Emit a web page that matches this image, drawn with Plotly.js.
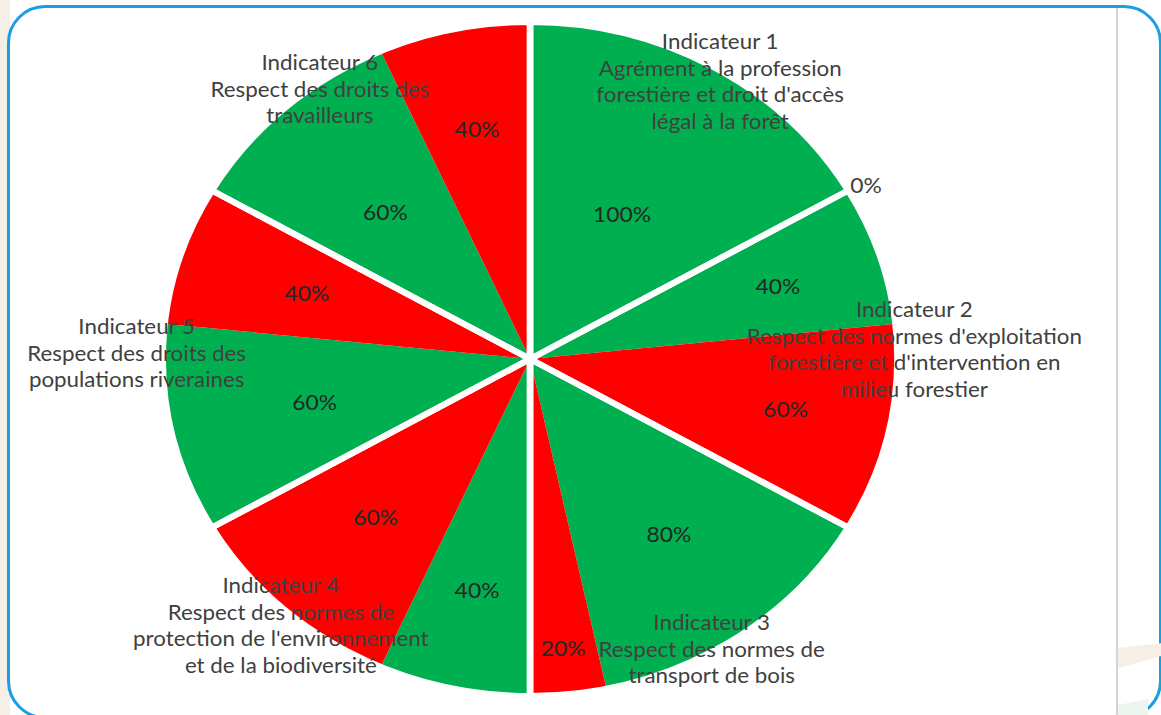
<!DOCTYPE html>
<html>
<head>
<meta charset="utf-8">
<script src="https://cdn.plot.ly/plotly-3.0.1.min.js"></script>
<style>
  html, body { margin:0; padding:0; background:#ffffff; width:1161px; height:715px; overflow:hidden; }
  #stage { position:relative; width:1161px; height:715px; }
  .deco { position:absolute; }
  #chart { position:absolute; left:0; top:0; transform-origin:0 0; }
</style>
</head>
<body>
<div id="stage">
  <div class="deco" style="left:0;top:0;width:10px;height:715px;background:#f4f0e7"></div>
  <div class="deco" style="left:7px;top:5px;width:1155px;height:714px;box-sizing:border-box;border:3px solid #1b9de2;border-radius:38px;background:#ffffff"></div>
  <div class="deco" style="left:1116px;top:8px;width:2px;height:707px;background:#d4d4d4"></div>
  <div class="deco" style="left:1118px;top:640px;width:43px;height:32px;background:#f5efe4;clip-path:polygon(0 25%,100% 10%,100% 50%,0 88%)"></div>
  <div class="deco" style="left:1118px;top:695px;width:30px;height:20px;background:#edf6ee;clip-path:polygon(0 50%,100% 20%,100% 100%,0 100%)"></div>
  <div id="chart"></div>
</div>
<script>
// ---------------- data ----------------
const indicators = ['Indicateur 1', 'Indicateur 2', 'Indicateur 3', 'Indicateur 4', 'Indicateur 5', 'Indicateur 6'];
const indicatorDescriptions = [
  ['Agrément à la profession', "forestière et droit d'accès", 'légal à la forêt'],
  ["Respect des normes d'exploitation", "forestière et d'intervention en", 'milieu forestier'],
  ['Respect des normes de', 'transport de bois'],
  ['Respect des normes de', "protection de l'environnement", 'et de la biodiversité'],
  ['Respect des droits des', 'populations riveraines'],
  ['Respect des droits des', 'travailleurs']
];
const conformes    = [100, 40, 80, 40, 60, 60];   // green share (%)
const nonConformes = [0,   60, 20, 60, 40, 40];   // red share (%)

// ---------------- layout / style constants ----------------
const H = 715;
const STRETCH = 1.09;                       // the reference picture is stretched horizontally
const WU = Math.round(1161 / STRETCH);      // un-stretched plot width
const pieCx = 530 / STRETCH, pieCy = 359, pieR = 337;   // pie geometry in un-stretched px
const GREEN = '#00b050', RED = '#ff0000';
const FONT = 'Lato, "Open Sans", sans-serif';
// radial position (fraction of radius) of each slice's percentage label
const labelRadius = [0.50, 1.00, 0.71, 0.71, 0.64, 0.86, 0.70, 0.63, 0.60, 0.64, 0.59, 0.70];
// centre of each indicator's label block, in screen px
const indicatorLabelPos = [[720, 81], [914, 349], [712, 648], [281, 625], [137, 352], [320, 89]];

// ---------------- build slices ----------------
const sliceValues = [], sliceLabels = [], sliceColors = [];
indicators.forEach((name, i) => {
  sliceValues.push(conformes[i]);    sliceLabels.push(name + ' – conforme');     sliceColors.push(GREEN);
  sliceValues.push(nonConformes[i]); sliceLabels.push(name + ' – non conforme'); sliceColors.push(RED);
});
const indicatorTotals = indicators.map((_, i) => conformes[i] + nonConformes[i]);

const domain = {
  x: [(pieCx - pieR) / WU, (pieCx + pieR) / WU],
  y: [1 - (pieCy + pieR) / H, 1 - (pieCy - pieR) / H]
};

const pieMain = {
  type: 'pie', values: sliceValues, labels: sliceLabels, sort: false,
  direction: 'clockwise', rotation: 0, domain: domain,
  marker: { colors: sliceColors, line: { width: 0 } },
  textinfo: 'none', hoverinfo: 'label+value'
};
const pieBorders = {
  type: 'pie', values: indicatorTotals, labels: indicators, sort: false,
  direction: 'clockwise', rotation: 0, domain: domain,
  marker: { colors: indicators.map(() => 'rgba(0,0,0,0)'), line: { color: '#ffffff', width: 6 } },
  textinfo: 'none', hoverinfo: 'skip'
};

// ---------------- labels ----------------
const annotations = [];
const total = sliceValues.reduce((a, b) => a + b, 0);
let cum = 0;
sliceValues.forEach((v, j) => {
  const a0 = cum / total * 2 * Math.PI;
  cum += v;
  const a1 = cum / total * 2 * Math.PI;
  const mid = (a0 + a1) / 2;
  const r = labelRadius[j] * pieR;
  const px = pieCx + r * Math.sin(mid);
  const py = pieCy - r * Math.cos(mid);
  const empty = v === 0;
  annotations.push({
    xref: 'paper', yref: 'paper', x: px / WU, y: 1 - py / H,
    xanchor: empty ? (Math.sin(mid) >= 0 ? 'left' : 'right') : 'center',
    yanchor: 'middle', yshift: empty ? 6 : 0,
    text: v + '%', showarrow: false,
    font: { family: FONT, size: 21, color: empty ? '#404040' : '#262626' }
  });
});
indicators.forEach((name, i) => {
  annotations.push({
    xref: 'paper', yref: 'paper',
    x: indicatorLabelPos[i][0] / 1161, y: 1 - indicatorLabelPos[i][1] / H,
    xanchor: 'center', yanchor: 'middle', align: 'center',
    text: [name].concat(indicatorDescriptions[i]).join('<br>'),
    showarrow: false,
    font: { family: FONT, size: 20.5, color: '#404040' }
  });
});

const layout = {
  width: WU, height: H,
  margin: { l: 0, r: 0, t: 0, b: 0, pad: 0 },
  paper_bgcolor: 'rgba(0,0,0,0)', plot_bgcolor: 'rgba(0,0,0,0)',
  showlegend: false,
  annotations: annotations
};

const el = document.getElementById('chart');
el.style.width = WU + 'px';
el.style.height = H + 'px';
el.style.transform = 'scaleX(' + (1161 / WU) + ')';
Plotly.newPlot(el, [pieMain, pieBorders], layout, { displayModeBar: false, staticPlot: true });
</script>
</body>
</html>
